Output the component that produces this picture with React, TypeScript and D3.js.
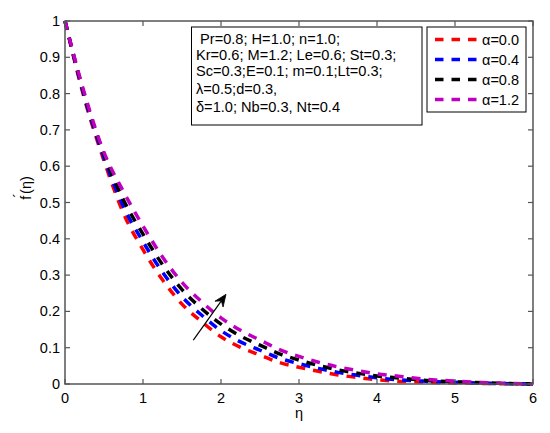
import React from "react";
import * as d3 from "d3";

const etaGrid = [0, 0.25, 0.5, 0.75, 1, 1.25, 1.5, 1.75, 2, 2.25, 2.5, 2.75, 3, 3.25, 3.5, 3.75, 4, 4.25, 4.5, 4.75, 5, 5.25, 5.5, 5.75, 6];
const alpha00 = [1.0, 0.785, 0.615, 0.47, 0.37, 0.287, 0.22, 0.172, 0.13, 0.101, 0.08, 0.059, 0.046, 0.035, 0.025, 0.018, 0.012, 0.008, 0.006, 0.004, 0.003, 0.002, 0.001, 0.0005, 0];
const alpha04 = [1.0, 0.79, 0.623, 0.488, 0.392, 0.308, 0.24, 0.19, 0.147, 0.116, 0.093, 0.071, 0.056, 0.043, 0.032, 0.024, 0.017, 0.012, 0.009, 0.006, 0.0045, 0.003, 0.0017, 0.0008, 0];
const alpha08 = [1.0, 0.795, 0.632, 0.507, 0.413, 0.329, 0.26, 0.208, 0.165, 0.132, 0.107, 0.083, 0.066, 0.051, 0.039, 0.03, 0.022, 0.017, 0.012, 0.008, 0.006, 0.004, 0.0023, 0.001, 0];
const alpha12 = [1.0, 0.8, 0.638, 0.53, 0.435, 0.35, 0.28, 0.227, 0.182, 0.148, 0.121, 0.095, 0.076, 0.06, 0.047, 0.037, 0.028, 0.022, 0.016, 0.011, 0.008, 0.005, 0.003, 0.0015, 0];

const seriesLabels = ["α=0.0", "α=0.4", "α=0.8", "α=1.2"];
const seriesColors = ["#ff0000", "#0000ff", "#000000", "#c000c0"];
const seriesValues = [alpha00, alpha04, alpha08, alpha12];

const xTicks = [0, 1, 2, 3, 4, 5, 6];
const yTicks = [0, 0.1, 0.2, 0.3, 0.4, 0.5, 0.6, 0.7, 0.8, 0.9, 1];
const yTickLabels = ["0", "0.1", "0.2", "0.3", "0.4", "0.5", "0.6", "0.7", "0.8", "0.9", "1"];

const paramLines = [
  " Pr=0.8; H=1.0; n=1.0;",
  "Kr=0.6; M=1.2; Le=0.6; St=0.3;",
  "Sc=0.3;E=0.1; m=0.1;Lt=0.3;",
  "λ=0.5;d=0.3,",
  "δ=1.0; Nb=0.3, Nt=0.4",
];

const arrowStart = [1.645, 0.121];
const arrowEnd = [2.064, 0.247];

const W = 550;
const H = 433;
const L = 65, R = 533, T = 21, B = 384;
const font = "'Liberation Sans', Arial, Helvetica, sans-serif";
const axisColor = "#555";

export default function App() {
  const x = d3.scaleLinear().domain([0, 6]).range([L, R]);
  const y = d3.scaleLinear().domain([0, 1]).range([B, T]);
  const line = d3
    .line<number>()
    .x((_, i) => x(etaGrid[i]))
    .y((d) => y(d))
    .curve(d3.curveMonotoneX);

  const ax0 = x(arrowStart[0]), ay0 = y(arrowStart[1]);
  const ax1 = x(arrowEnd[0]), ay1 = y(arrowEnd[1]);
  const ang = Math.atan2(ay1 - ay0, ax1 - ax0);
  const hl = 12, hw = 5, notch = 8;
  const p = (dx: number, dy: number) => [
    ax1 + dx * Math.cos(ang) - dy * Math.sin(ang),
    ay1 + dx * Math.sin(ang) + dy * Math.cos(ang),
  ];
  const h1 = p(-hl, -hw), h2 = p(-notch, 0), h3 = p(-hl, hw);
  const headPath = `M${ax1},${ay1}L${h1[0]},${h1[1]}L${h2[0]},${h2[1]}L${h3[0]},${h3[1]}Z`;

  const legendY = [39.5, 59.5, 79.5, 99.5];
  const paramBaselines = [44, 60, 76, 94, 112];

  return (
    <svg width={W} height={H} style={{ position: "absolute", left: 0, top: 0, background: "#fff" }} fontFamily={font}>
      <rect x={0} y={0} width={W} height={H} fill="#fff" />
      {seriesValues.map((vals, i) => (
        <path
          key={i}
          d={line(vals) || ""}
          fill="none"
          stroke={seriesColors[i]}
          strokeWidth={3.5}
          strokeDasharray="9 8"
        />
      ))}
      <rect x={L} y={T} width={R - L} height={B - T} fill="none" stroke={axisColor} strokeWidth={1.5} />
      {xTicks.map((t) => (
        <g key={"x" + t}>
          <line x1={x(t)} x2={x(t)} y1={B} y2={B - 5} stroke={axisColor} strokeWidth={1.2} />
          <line x1={x(t)} x2={x(t)} y1={T} y2={T + 5} stroke={axisColor} strokeWidth={1.2} />
          <text x={x(t)} y={403} fontSize={14.5} textAnchor="middle" fill="#000">
            {String(t)}
          </text>
        </g>
      ))}
      {yTicks.map((t, i) => (
        <g key={"y" + t}>
          <line x1={L} x2={L + 5} y1={y(t)} y2={y(t)} stroke={axisColor} strokeWidth={1.2} />
          <line x1={R} x2={R - 5} y1={y(t)} y2={y(t)} stroke={axisColor} strokeWidth={1.2} />
          <text x={60} y={y(t) + 5} fontSize={14.5} textAnchor="end" fill="#000">
            {yTickLabels[i]}
          </text>
        </g>
      ))}
      <text x={299} y={418} fontSize={14.5} textAnchor="middle" fill="#000">η</text>
      <g transform="translate(31,188) rotate(-90)">
        <text x={0} y={0} fontSize={14.5} textAnchor="middle" fill="#000">
          f<tspan dx={-2} dy={-7}>´</tspan><tspan dy={7} dx={-1}>(η)</tspan>
        </text>
      </g>
      <line x1={ax0} y1={ay0} x2={h2[0]} y2={h2[1]} stroke="#000" strokeWidth={1.2} />
      <path d={headPath} fill="#000" stroke="#000" strokeWidth={0.8} />
      <rect x={191.5} y={27} width={230.5} height={98} fill="#fff" stroke="#000" strokeWidth={1} />
      {paramLines.map((s, i) => (
        <text key={i} x={196} y={paramBaselines[i]} fontSize={14.6} fill="#000" style={{ whiteSpace: "pre" }}>
          {s}
        </text>
      ))}
      <rect x={427} y={27} width={99} height={85} fill="#fff" stroke="#000" strokeWidth={1} />
      {seriesLabels.map((lab, i) => (
        <g key={lab}>
          <line x1={435} x2={477} y1={legendY[i]} y2={legendY[i]} stroke={seriesColors[i]} strokeWidth={3.5} strokeDasharray="8.5 8" />
          <text x={482} y={legendY[i] + 5} fontSize={14.5} fill="#000">{lab}</text>
        </g>
      ))}
    </svg>
  );
}
